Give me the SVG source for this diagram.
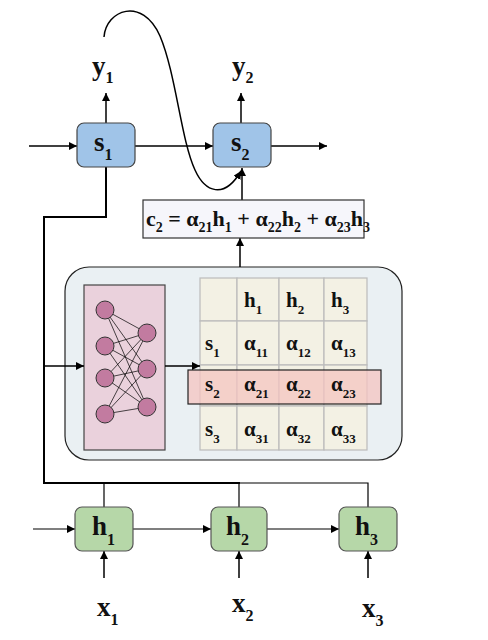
<svg xmlns="http://www.w3.org/2000/svg" width="488" height="640" viewBox="0 0 488 640">
<defs>
<marker id="ah" viewBox="0 0 10 10" refX="10" refY="5" markerWidth="8" markerHeight="8" markerUnits="userSpaceOnUse" orient="auto">
<path d="M0,0 L10,5 L0,10 z" fill="#000"/>
</marker>
<style>
.t{font-family:"Liberation Serif","Times New Roman",serif;font-weight:bold;fill:#111;}
.big{font-size:27px;}
.sub{font-size:16px;}
.tb{font-size:21px;}
.tsub{font-size:13px;}
.sbox{fill:#a0c4e8;stroke:#444;stroke-width:1.2;}
.hbox{fill:#b6d7a8;stroke:#555;stroke-width:1.2;}
.ln{stroke:#000;stroke-width:1.5;fill:none;}
.lnt{stroke:#000;stroke-width:1.2;fill:none;}
.cell{fill:#f3f1e4;stroke:#bbb;stroke-width:1.2;}
.neu{fill:#c27ba0;stroke:#333;stroke-width:1;}
.nl{stroke:#000;stroke-width:0.7;}
</style>
</defs>

<g id="attention-block">
<rect x="65" y="267" width="337" height="193" rx="24" fill="#eaf0f3" stroke="#222" stroke-width="1.2"/>
</g>

<g id="network">
<rect x="84" y="285" width="81" height="165" fill="#ead1dc" stroke="#444" stroke-width="1.2"/>
<g class="nl">
<line x1="105" y1="310" x2="147" y2="333"/><line x1="105" y1="310" x2="147" y2="369"/><line x1="105" y1="310" x2="147" y2="407"/>
<line x1="105" y1="346" x2="147" y2="333"/><line x1="105" y1="346" x2="147" y2="369"/><line x1="105" y1="346" x2="147" y2="407"/>
<line x1="105" y1="378" x2="147" y2="333"/><line x1="105" y1="378" x2="147" y2="369"/><line x1="105" y1="378" x2="147" y2="407"/>
<line x1="105" y1="414" x2="147" y2="333"/><line x1="105" y1="414" x2="147" y2="369"/><line x1="105" y1="414" x2="147" y2="407"/>
</g>
<circle class="neu" cx="105" cy="310" r="9"/>
<circle class="neu" cx="105" cy="346" r="9"/>
<circle class="neu" cx="105" cy="378" r="9"/>
<circle class="neu" cx="105" cy="414" r="9"/>
<circle class="neu" cx="147" cy="333" r="9"/>
<circle class="neu" cx="147" cy="369" r="9"/>
<circle class="neu" cx="147" cy="407" r="9"/>
</g>

<g id="table">
<rect class="cell" x="200" y="278" width="37" height="43"/>
<rect class="cell" x="237" y="278" width="42" height="43"/>
<rect class="cell" x="279" y="278" width="45" height="43"/>
<rect class="cell" x="324" y="278" width="43" height="43"/>
<rect class="cell" x="200" y="321" width="37" height="44"/>
<rect class="cell" x="237" y="321" width="42" height="44"/>
<rect class="cell" x="279" y="321" width="45" height="44"/>
<rect class="cell" x="324" y="321" width="43" height="44"/>
<rect class="cell" x="200" y="365" width="37" height="41"/>
<rect class="cell" x="237" y="365" width="42" height="41"/>
<rect class="cell" x="279" y="365" width="45" height="41"/>
<rect class="cell" x="324" y="365" width="43" height="41"/>
<rect class="cell" x="200" y="406" width="37" height="44"/>
<rect class="cell" x="237" y="406" width="42" height="44"/>
<rect class="cell" x="279" y="406" width="45" height="44"/>
<rect class="cell" x="324" y="406" width="43" height="44"/>
<rect x="188" y="370" width="193" height="34" fill="#f4c4c0" fill-opacity="0.75" stroke="#222" stroke-width="1.2"/>
<text class="t tb" x="244" y="307">h<tspan class="tsub" dy="7">1</tspan></text>
<text class="t tb" x="286" y="307">h<tspan class="tsub" dy="7">2</tspan></text>
<text class="t tb" x="331" y="307">h<tspan class="tsub" dy="7">3</tspan></text>
<text class="t tb" x="205" y="350">s<tspan class="tsub" dy="7">1</tspan></text>
<text class="t tb" x="244" y="350">α<tspan class="tsub" dy="7">11</tspan></text>
<text class="t tb" x="286" y="350">α<tspan class="tsub" dy="7">12</tspan></text>
<text class="t tb" x="331" y="350">α<tspan class="tsub" dy="7">13</tspan></text>
<text class="t tb" x="205" y="391">s<tspan class="tsub" dy="7">2</tspan></text>
<text class="t tb" x="244" y="391">α<tspan class="tsub" dy="7">21</tspan></text>
<text class="t tb" x="286" y="391">α<tspan class="tsub" dy="7">22</tspan></text>
<text class="t tb" x="331" y="391">α<tspan class="tsub" dy="7">23</tspan></text>
<text class="t tb" x="205" y="436">s<tspan class="tsub" dy="7">3</tspan></text>
<text class="t tb" x="244" y="436">α<tspan class="tsub" dy="7">31</tspan></text>
<text class="t tb" x="286" y="436">α<tspan class="tsub" dy="7">32</tspan></text>
<text class="t tb" x="331" y="436">α<tspan class="tsub" dy="7">33</tspan></text>
</g>

<g id="connectors">
<path class="ln" d="M29,146 L77,146" marker-end="url(#ah)"/>
<path class="ln" d="M135,146 L213,146" marker-end="url(#ah)"/>
<path class="ln" d="M271,146 L327,146" marker-end="url(#ah)"/>
<path class="ln" d="M106,123 L106,93" marker-end="url(#ah)"/>
<path class="ln" d="M241,123 L241,93" marker-end="url(#ah)"/>
<path class="ln" d="M242,200 L242,168" marker-end="url(#ah)"/>
<path class="ln" d="M240,267 L240,238" marker-end="url(#ah)"/>
<path class="ln" d="M104,37 C106,10 142,-4 160,36 C176,74 181,140 195,170 C205,192 224,200 241,171" marker-end="url(#ah)"/>
<path stroke="#000" stroke-width="2" fill="none" d="M106,167 L106,217 L44,217 L44,483 L240,483"/>
<path class="lnt" d="M240,483 L368,483 L368,507"/>
<path class="lnt" d="M104,483 L104,507"/>
<path class="lnt" d="M239,483 L239,507"/>
<path class="ln" d="M44,366 L84,366" marker-end="url(#ah)"/>
<path class="ln" d="M165,366 L200,366" marker-end="url(#ah)"/>
<path class="lnt" d="M33,529 L75,529" marker-end="url(#ah)"/>
<path class="lnt" d="M133,529 L211,529" marker-end="url(#ah)"/>
<path class="lnt" d="M267,529 L339,529" marker-end="url(#ah)"/>
<path class="ln" d="M104,578 L104,551" marker-end="url(#ah)"/>
<path class="ln" d="M239,578 L239,551" marker-end="url(#ah)"/>
<path class="ln" d="M368,578 L368,551" marker-end="url(#ah)"/>
</g>

<g id="context">
<rect x="143" y="200" width="221" height="38" fill="#f6f6fb" stroke="#333" stroke-width="1.2"/>
<text class="t" x="146" y="226" font-size="22">c<tspan font-size="14" dy="6">2</tspan><tspan dy="-6"> = α</tspan><tspan font-size="14" dy="6">21</tspan><tspan dy="-6">h</tspan><tspan font-size="14" dy="6">1</tspan><tspan dy="-6"> + α</tspan><tspan font-size="14" dy="6">22</tspan><tspan dy="-6">h</tspan><tspan font-size="14" dy="6">2</tspan><tspan dy="-6"> + α</tspan><tspan font-size="14" dy="6">23</tspan><tspan dy="-6">h</tspan><tspan font-size="14" dy="6">3</tspan></text>
</g>

<g id="s1">
<rect class="sbox" x="77" y="123" width="58" height="44" rx="7"/>
<text class="t big" x="94" y="151">s<tspan class="sub" dy="9">1</tspan></text>
</g>
<g id="s2">
<rect class="sbox" x="213" y="123" width="58" height="44" rx="7"/>
<text class="t big" x="231" y="151">s<tspan class="sub" dy="9">2</tspan></text>
</g>
<g id="y1"><text class="t big" x="92" y="75">y<tspan class="sub" dy="8">1</tspan></text></g>
<g id="y2"><text class="t big" x="232" y="75">y<tspan class="sub" dy="8">2</tspan></text></g>

<g id="h1">
<rect class="hbox" x="75" y="507" width="58" height="44" rx="7"/>
<text class="t big" x="92" y="535">h<tspan class="sub" dy="10">1</tspan></text>
</g>
<g id="h2">
<rect class="hbox" x="211" y="507" width="56" height="44" rx="7"/>
<text class="t big" x="226" y="535">h<tspan class="sub" dy="10">2</tspan></text>
</g>
<g id="h3">
<rect class="hbox" x="339" y="507" width="58" height="44" rx="7"/>
<text class="t big" x="355" y="535">h<tspan class="sub" dy="10">3</tspan></text>
</g>
<g id="x1"><text class="t big" x="97" y="616">x<tspan class="sub" dy="9">1</tspan></text></g>
<g id="x2"><text class="t big" x="232" y="612">x<tspan class="sub" dy="9">2</tspan></text></g>
<g id="x3"><text class="t big" x="362" y="617">x<tspan class="sub" dy="9">3</tspan></text></g>
</svg>
